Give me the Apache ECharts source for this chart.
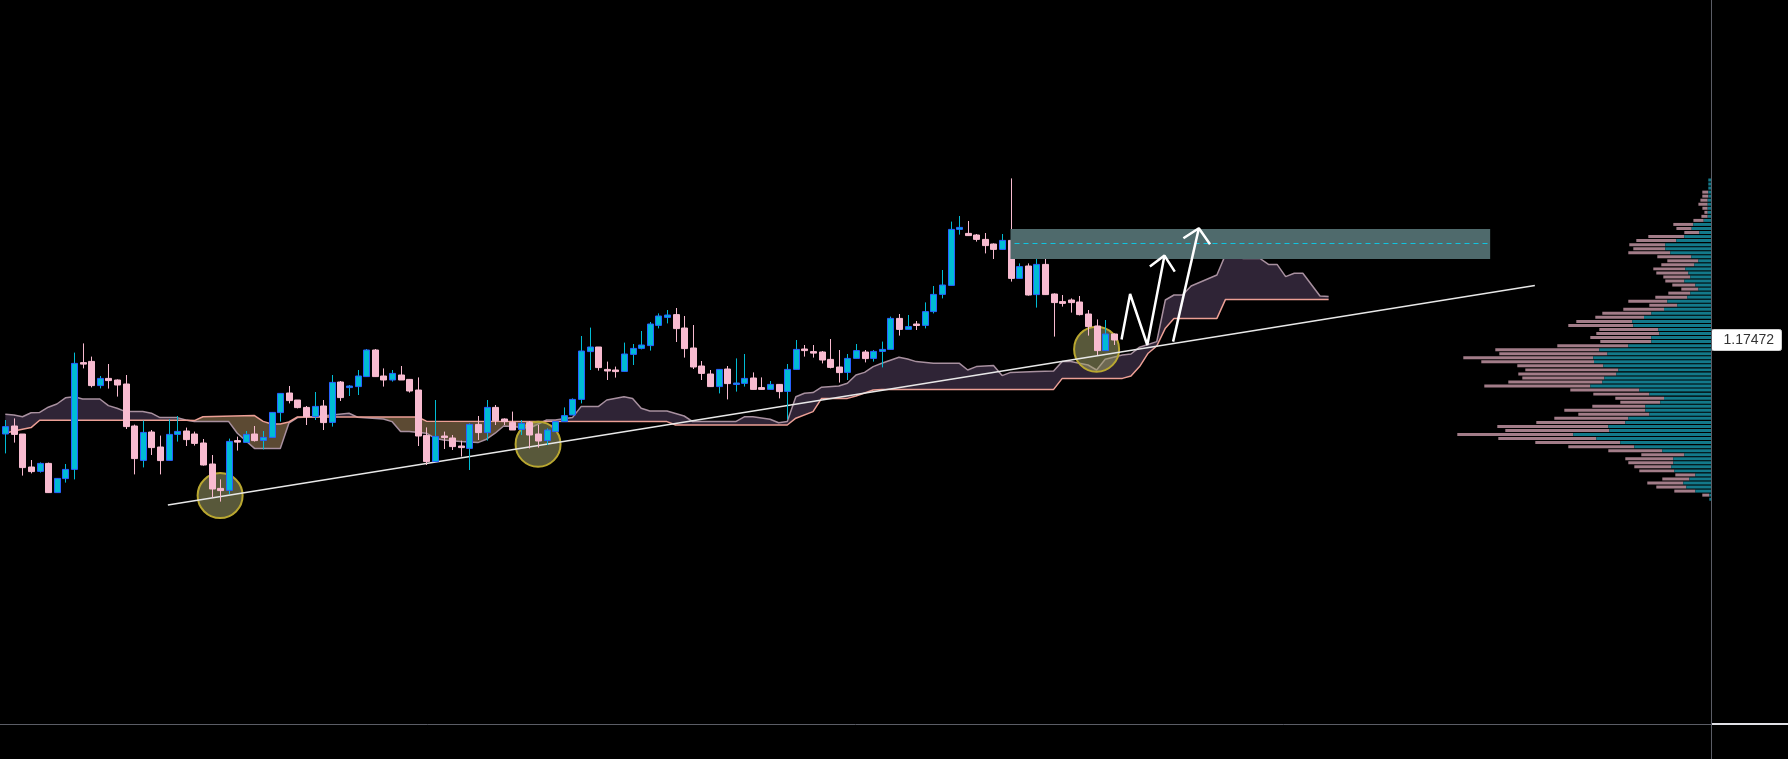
<!DOCTYPE html>
<html><head><meta charset="utf-8">
<script src="https://cdn.jsdelivr.net/npm/echarts@6/dist/echarts.min.js"></script>
<style>html,body{margin:0;padding:0;background:#000;}#c{width:1788px;height:759px;}</style>
</head><body><div id="c"></div>
<script>
// ---- candles (EURUSD) ----
const opens = [1.17002,1.17042,1.17002,1.16837,1.16815,1.16855,1.16709,1.16779,1.16825,1.17359,
1.17365,1.17244,1.17280,1.17272,1.17252,1.17042,1.16870,1.17012,1.16937,1.16870,
1.17000,1.17017,1.17002,1.16957,1.16852,1.16730,1.16720,1.16969,1.16960,1.17002,
1.16970,1.16985,1.17109,1.17207,1.17172,1.17135,1.17089,1.17142,1.17060,1.17262,
1.17234,1.17239,1.17289,1.17422,1.17292,1.17272,1.17297,1.17275,1.17222,1.16995,
1.16864,1.16992,1.16982,1.16942,1.16930,1.17050,1.17009,1.17135,1.17077,1.17060,
1.17025,1.17059,1.17002,1.16969,1.17014,1.17064,1.17097,1.17175,1.17414,1.17437,
1.17325,1.17322,1.17315,1.17400,1.17430,1.17444,1.17545,1.17585,1.17599,1.17532,
1.17432,1.17342,1.17302,1.17239,1.17327,1.17252,1.17255,1.17282,1.17234,1.17225,
1.17250,1.17215,1.17325,1.17427,1.17414,1.17412,1.17375,1.17337,1.17310,1.17380,
1.17412,1.17380,1.17415,1.17425,1.17580,1.17525,1.17552,1.17545,1.17614,1.17700,
1.17745,1.18025,1.18005,1.17997,1.17975,1.17952,1.17925,1.17970,1.17780,1.17842,
1.17699,1.17850,1.17702,1.17664,1.17672,1.17662,1.17602,1.17542,1.17419,1.17502];
const closes = [1.17039,1.17000,1.16834,1.16814,1.16855,1.16709,1.16780,1.16825,1.17355,1.17354,
1.17244,1.17280,1.17269,1.17247,1.17039,1.16879,1.17010,1.16934,1.16869,1.17000,
1.17015,1.16974,1.16955,1.16847,1.16727,1.16719,1.16965,1.16964,1.17000,1.16969,
1.16985,1.17110,1.17205,1.17169,1.17134,1.17089,1.17140,1.17059,1.17260,1.17184,
1.17242,1.17292,1.17422,1.17289,1.17272,1.17305,1.17272,1.17217,1.16992,1.16864,
1.16990,1.16984,1.16939,1.16934,1.17050,1.17009,1.17135,1.17069,1.17064,1.17022,
1.17055,1.16997,1.16967,1.17022,1.17064,1.17094,1.17175,1.17417,1.17437,1.17334,
1.17317,1.17314,1.17402,1.17430,1.17447,1.17552,1.17592,1.17597,1.17529,1.17429,
1.17337,1.17305,1.17239,1.17325,1.17254,1.17257,1.17280,1.17225,1.17225,1.17250,
1.17214,1.17325,1.17425,1.17419,1.17409,1.17372,1.17335,1.17309,1.17380,1.17419,
1.17379,1.17415,1.17425,1.17580,1.17525,1.17539,1.17545,1.17614,1.17700,1.17747,
1.18025,1.18035,1.17994,1.17975,1.17944,1.17925,1.17970,1.17780,1.17839,1.17697,
1.17850,1.17699,1.17659,1.17655,1.17659,1.17599,1.17539,1.17419,1.17502,1.17472];
const lows = [1.16905,1.16959,1.16794,1.16805,1.16809,1.16709,1.16709,1.16759,1.16775,1.17330,
1.17235,1.17230,1.17229,1.17189,1.17027,1.16800,1.16835,1.16897,1.16800,1.16870,
1.16964,1.16942,1.16944,1.16844,1.16684,1.16664,1.16702,1.16919,1.16960,1.16964,
1.16925,1.16985,1.17064,1.17155,1.17130,1.17047,1.17072,1.17022,1.17039,1.17167,
1.17192,1.17197,1.17289,1.17289,1.17239,1.17264,1.17272,1.17209,1.16942,1.16847,
1.16864,1.16927,1.16922,1.16889,1.16822,1.16972,1.16969,1.17047,1.17047,1.17022,
1.16997,1.16930,1.16934,1.16947,1.17014,1.17064,1.17097,1.17155,1.17322,1.17319,
1.17272,1.17284,1.17315,1.17347,1.17425,1.17419,1.17530,1.17555,1.17462,1.17384,
1.17327,1.17272,1.17239,1.17205,1.17175,1.17214,1.17239,1.17225,1.17225,1.17225,
1.17180,1.17075,1.17325,1.17389,1.17384,1.17355,1.17330,1.17259,1.17272,1.17380,
1.17360,1.17364,1.17335,1.17425,1.17494,1.17525,1.17522,1.17530,1.17605,1.17680,
1.17745,1.17999,1.17994,1.17964,1.17905,1.17877,1.17925,1.17764,1.17780,1.17694,
1.17634,1.17699,1.17489,1.17639,1.17609,1.17595,1.17494,1.17397,1.17419,1.17447];
const highs = [1.17072,1.17080,1.17002,1.16872,1.16860,1.16859,1.16780,1.16852,1.17409,1.17455,
1.17389,1.17292,1.17352,1.17275,1.17297,1.17049,1.17069,1.17022,1.16994,1.17075,
1.17092,1.17034,1.17014,1.16977,1.16897,1.16775,1.16979,1.16989,1.17017,1.17042,
1.17017,1.17110,1.17205,1.17242,1.17172,1.17142,1.17212,1.17172,1.17297,1.17267,
1.17247,1.17322,1.17427,1.17427,1.17330,1.17322,1.17342,1.17275,1.17285,1.17035,
1.17172,1.17014,1.16997,1.16969,1.17055,1.17092,1.17172,1.17147,1.17080,1.17114,
1.17072,1.17067,1.17047,1.17030,1.17064,1.17135,1.17180,1.17492,1.17534,1.17437,
1.17364,1.17339,1.17459,1.17452,1.17517,1.17562,1.17605,1.17622,1.17632,1.17592,
1.17547,1.17367,1.17322,1.17325,1.17342,1.17380,1.17402,1.17310,1.17285,1.17267,
1.17250,1.17352,1.17472,1.17447,1.17447,1.17417,1.17477,1.17422,1.17402,1.17452,
1.17422,1.17422,1.17464,1.17589,1.17602,1.17597,1.17567,1.17660,1.17742,1.17822,
1.18064,1.18092,1.18067,1.18002,1.18007,1.17955,1.18002,1.18280,1.17855,1.17855,
1.17902,1.17950,1.17705,1.17697,1.17680,1.17692,1.17622,1.17575,1.17572,1.17505];

// bar slots across the plot (history + projected cloud + empty space)
const SLOTS = 199;
const categories = Array.from({length: SLOTS}, (_, i) => 'B' + i);

// ---- Ichimoku cloud (vertices: [bar index, price]) ----
const senkouA = [[0,1.17101],[1,1.17097],[2,1.17088],[3,1.17108],[4,1.17110],[5,1.17136],[6,1.17152],[7,1.17183],[8,1.17188],[9,1.17177],[11,1.17177],[12,1.17144],[13,1.17131],[14,1.17114],[16,1.17114],[17,1.17106],[18,1.17084],[20,1.17084],[21,1.17072],[22,1.17064],[26,1.17064],[27,1.17006],[29,1.16930],[32,1.16930],[33,1.17056],[34,1.17084],[36,1.17088],[38,1.17097],[40,1.17106],[41,1.17086],[44,1.17077],[45,1.17064],[46,1.17014],[47,1.17014],[49,1.17006],[50,1.16981],[51,1.16972],[53,1.16964],[55,1.16959],[56,1.16976],[57,1.17006],[58,1.17042],[59,1.17039],[61,1.17031],[63,1.17072],[64,1.17072],[66,1.17084],[67,1.17139],[69,1.17139],[70,1.17172],[72,1.17188],[73,1.17180],[74,1.17131],[75,1.17117],[77,1.17117],[79,1.17092],[80,1.17064],[85,1.17064],[86,1.17088],[87,1.17088],[89,1.17076],[90,1.17058],[91,1.17064],[92,1.17188],[93,1.17206],[94,1.17209],[95,1.17236],[97,1.17242],[98,1.17256],[99,1.17297],[100,1.17310],[101,1.17339],[102,1.17356],[104,1.17386],[105,1.17377],[106,1.17364],[108,1.17356],[111,1.17356],[112,1.17322],[113,1.17339],[115,1.17344],[116,1.17294],[117,1.17310],[120,1.17314],[122,1.17317],[123,1.17364],[124,1.17364],[126,1.17347],[127,1.17322],[128,1.17376],[130,1.17397],[131,1.17402],[132,1.17436],[134,1.17464],[135,1.17672],[136,1.17697],[137,1.17697],[138,1.17742],[141,1.17797],[142,1.17899],[143,1.17899],[144,1.17880],[146,1.17880],[147,1.17850],[148,1.17850],[149,1.17789],[150,1.17806],[151,1.17806],[153,1.17692],[154,1.17689]];
const senkouB = [[0,1.17006],[1,1.17017],[3,1.17034],[4,1.17071],[21,1.17071],[22,1.17069],[23,1.17088],[29,1.17094],[30,1.17065],[31,1.17052],[32,1.17052],[33,1.17062],[34,1.17087],[48,1.17087],[49,1.17066],[77,1.17064],[78,1.17047],[91,1.17047],[92,1.17081],[94,1.17114],[95,1.17180],[98,1.17180],[99,1.17192],[101,1.17222],[102,1.17225],[122,1.17225],[123,1.17280],[130,1.17280],[131,1.17292],[132,1.17339],[133,1.17406],[134,1.17442],[135,1.17531],[136,1.17580],[141,1.17580],[142,1.17675],[154,1.17675]];

// ---- drawings ----
const trendLine = [[18.92,1.16647],[178.0,1.17745]];
const touchCircles = [[25.0,1.16694],[62.0,1.16951],[127.0,1.17426]];
const zoneX = [116.98, 172.8];
const zonePrice = [1.17877, 1.18027];
const zoneMid = 1.17957;
const zigzag = [[129.9,1.17475],[130.9,1.17702],[132.9,1.17447],[134.9,1.17894]];
const zigzagHead = [[133.2,1.17839],[134.9,1.17894],[136.1,1.17814]];
const arrow2 = [[135.9,1.17464],[138.9,1.18031]];
const arrow2Head = [[137.1,1.17981],[138.9,1.18031],[140.2,1.17951]];
const lastPrice = 1.17472;

// ---- visible range volume profile (rows top -> bottom) ----
const profileHigh = 1.18272, profileRow = 0.000202;
const profileUp = [27,27,27,27,27,33,33,33,33,33,73,177,193,117,267,347,457,457,407,197,127,167,257,227,207,267,157,127,207,237,437,337,470,597,670,787,777,527,517,597,597,827,1117,1037,1177,1170,1077,927,947,1067,1087,1207,717,617,470,507,657,657,617,827,857,1027,1017,1377,1147,907,767,487,267,377,377,397,367,157,217,277,247,157,17,17];
const profileDown = [0,0,0,60,60,73,93,53,33,63,103,200,153,150,360,400,360,320,420,340,310,330,320,320,270,190,230,170,220,320,390,280,407,490,487,560,650,590,630,610,510,710,1040,1080,1300,1127,860,930,980,820,940,1060,690,560,487,400,530,810,710,740,890,1110,1040,1160,980,850,660,540,430,480,450,370,350,200,270,360,300,210,70,0];
const profileMax = 17100;

const yMin = 1.15552, yMax = 1.19172;

function interp(V, x) {
  if (x <= V[0][0]) return V[0][1];
  for (let k = 1; k < V.length; k++) {
    if (x <= V[k][0]) {
      const x0 = V[k-1][0], y0 = V[k-1][1], x1 = V[k][0], y1 = V[k][1];
      return y0 + (y1 - y0) * (x - x0) / (x1 - x0);
    }
  }
  return V[V.length-1][1];
}

const chart = echarts.init(document.getElementById('c'), null, {renderer: 'canvas'});
const UP = '#00bcd4', UPB = '#2962ff', DN = '#f8bbd0';

const option = {
  backgroundColor: '#000000',
  animation: false,
  grid: {left: 1, right: 77, top: 0, bottom: 35},
  xAxis: [
    {type: 'category', data: categories, boundaryGap: true, show: false},
    {type: 'value', min: -0.5, max: SLOTS - 0.5, show: false},
    {type: 'value', min: 0, max: profileMax, inverse: true, show: false}
  ],
  yAxis: {type: 'value', min: yMin, max: yMax, show: false},
  series: [
    { // cloud fill
      type: 'custom', xAxisIndex: 1, z: 1, silent: true,
      data: [[0, yMin]],
      renderItem: function (params, api) {
        const xs = Array.from(new Set(senkouA.map(p => p[0]).concat(senkouB.map(p => p[0])))).sort((a, b) => a - b);
        const lo = Math.max(senkouA[0][0], senkouB[0][0]);
        const hi = Math.min(senkouA[senkouA.length-1][0], senkouB[senkouB.length-1][0]);
        const pts = [];
        xs.filter(x => x >= lo && x <= hi).forEach(x => {
          const a = interp(senkouA, x), b = interp(senkouB, x);
          if (pts.length) {
            const p = pts[pts.length-1];
            const d0 = p.a - p.b, d1 = a - b;
            if (d0 * d1 < 0) {
              const t = d0 / (d0 - d1);
              const v = p.a + t * (a - p.a);
              pts.push({x: p.x + t * (x - p.x), a: v, b: v});
            }
          }
          pts.push({x, a, b});
        });
        const runs = [];
        let run = [pts[0]], sign = 0;
        for (let k = 1; k < pts.length; k++) {
          const s = Math.sign((pts[k-1].a - pts[k-1].b) + (pts[k].a - pts[k].b));
          if (sign === 0) sign = s;
          else if (s !== 0 && s !== sign) { runs.push({sign, pts: run}); run = [pts[k-1]]; sign = s; }
          run.push(pts[k]);
        }
        runs.push({sign, pts: run});
        const children = runs.map(r => {
          const top = r.pts.map(p => api.coord([p.x, p.a]));
          const bot = r.pts.slice().reverse().map(p => api.coord([p.x, p.b]));
          return {type: 'polygon', shape: {points: top.concat(bot)},
            style: {fill: r.sign > 0 ? '#2f2436' : '#5c4a33'}};
        });
        return {type: 'group', children};
      }
    },
    {type: 'line', xAxisIndex: 1, data: senkouA, showSymbol: false, silent: true, z: 2,
      lineStyle: {color: '#a8909f', width: 1.5}},
    {type: 'line', xAxisIndex: 1, data: senkouB, showSymbol: false, silent: true, z: 2,
      lineStyle: {color: '#ec9f95', width: 1.5}},
    { // volume profile
      type: 'custom', xAxisIndex: 2, z: 1, silent: true,
      data: profileUp.map((u, i) => [u, profileHigh - i * profileRow, profileDown[i]]),
      renderItem: function (params, api) {
        const up = api.value(0), price = api.value(1), dn = api.value(2);
        const p0 = api.coord([0, price]);
        const p1 = api.coord([up, price]);
        const p2 = api.coord([up + dn, price]);
        const h = Math.max(2, api.size([0, profileRow])[1] * 0.74);
        const ch = [];
        if (dn > 0) ch.push({type: 'rect', shape: {x: p2[0], y: p0[1] - h / 2, width: p1[0] - p2[0], height: h}, style: {fill: '#a27c88'}});
        ch.push({type: 'rect', shape: {x: p1[0], y: p0[1] - h / 2, width: p0[0] - p1[0], height: h}, style: {fill: '#13798a'}});
        return {type: 'group', children: ch};
      }
    },
    { // touch circles
      type: 'custom', xAxisIndex: 1, z: 3, silent: true,
      data: touchCircles,
      renderItem: function (params, api) {
        const c = api.coord([api.value(0), api.value(1)]);
        return {type: 'circle', shape: {cx: c[0], cy: c[1], r: 22.5},
          style: {fill: 'rgba(160,160,105,0.55)', stroke: '#b9a730', lineWidth: 2}};
      }
    },
    {type: 'line', xAxisIndex: 1, data: trendLine, showSymbol: false, silent: true, z: 4, clip: false,
      lineStyle: {color: '#e8e8e8', width: 1.5}},
    { // last price label on the price scale
      type: 'custom', xAxisIndex: 1, z: 20, silent: true, clip: false,
      data: [[SLOTS - 0.5, lastPrice]],
      renderItem: function (params, api) {
        const p = api.coord([api.value(0), api.value(1)]);
        const x = Math.round(p[0]) + 0.5, y = Math.round(p[1]);
        return {type: 'group', children: [
          {type: 'rect', shape: {x: x, y: y - 10.5, width: 70, height: 21, r: 2},
            style: {fill: '#ffffff', stroke: '#cfcfcf', lineWidth: 1}},
          {type: 'text', style: {text: lastPrice.toFixed(5), x: x + 12, y: y + 0.5,
            verticalAlign: 'middle', align: 'left', fill: '#333333',
            font: '14px "Liberation Sans", Arial, sans-serif'}}
        ]};
      }
    },
    { // candles
      type: 'custom', xAxisIndex: 0, z: 5, silent: true,
      data: opens.map((o, i) => [i, o, closes[i], lows[i], highs[i]]),
      renderItem: function (params, api) {
        const i = api.value(0), o = api.value(1), c = api.value(2), l = api.value(3), h = api.value(4);
        const po = api.coord([i, o]), pc = api.coord([i, c]), pl = api.coord([i, l]), ph = api.coord([i, h]);
        const x = Math.round(po[0]) + 0.5;
        const up = c >= o;
        const top = Math.min(po[1], pc[1]);
        const bh = Math.max(Math.abs(po[1] - pc[1]), 1.5);
        const w = 6;
        return {type: 'group', children: [
          {type: 'line', shape: {x1: x, y1: ph[1], x2: x, y2: pl[1]},
            style: {stroke: up ? UP : DN, lineWidth: 1}},
          {type: 'rect', shape: {x: x - w / 2, y: top, width: w, height: bh},
            style: {fill: up ? UP : DN, stroke: up ? UPB : DN, lineWidth: 1}}
        ]};
      }
    },
    { // target zone
      type: 'custom', xAxisIndex: 1, z: 6, silent: true,
      data: [[zoneX[0], zonePrice[0]]],
      renderItem: function (params, api) {
        const a = api.coord([zoneX[0], zonePrice[1]]);
        const b = api.coord([zoneX[1], zonePrice[0]]);
        const m1 = api.coord([zoneX[0], zoneMid]);
        const m2 = api.coord([zoneX[1], zoneMid]);
        return {type: 'group', children: [
          {type: 'rect', shape: {x: a[0], y: a[1], width: b[0] - a[0], height: b[1] - a[1]},
            style: {fill: '#4f6a6c'}},
          {type: 'line', shape: {x1: m1[0] + 4, y1: Math.round(m1[1]) + 0.5, x2: m2[0], y2: Math.round(m2[1]) + 0.5},
            style: {stroke: '#10c4e0', lineWidth: 1.2, lineDash: [5, 4]}}
        ]};
      }
    },
    {type: 'line', xAxisIndex: 1, data: zigzag, showSymbol: false, silent: true, z: 7,
      lineStyle: {color: '#ffffff', width: 2.5}},
    {type: 'line', xAxisIndex: 1, data: zigzagHead, showSymbol: false, silent: true, z: 7,
      lineStyle: {color: '#ffffff', width: 2.5}},
    {type: 'line', xAxisIndex: 1, data: arrow2, showSymbol: false, silent: true, z: 7,
      lineStyle: {color: '#ffffff', width: 2.5}},
    {type: 'line', xAxisIndex: 1, data: arrow2Head, showSymbol: false, silent: true, z: 7,
      lineStyle: {color: '#ffffff', width: 2.5}}
  ],
  graphic: [
    {type: 'line', z: 100, shape: {x1: 1711.5, y1: 0, x2: 1711.5, y2: 759}, style: {stroke: '#5b5d66', lineWidth: 1}},
    {type: 'line', z: 100, shape: {x1: 0, y1: 724.5, x2: 1711, y2: 724.5}, style: {stroke: '#5b5d66', lineWidth: 1}},
    {type: 'line', z: 100, shape: {x1: 1712, y1: 724, x2: 1788, y2: 724}, style: {stroke: '#e0e0e6', lineWidth: 2}}
  ]
};
chart.setOption(option);
</script>
</body></html>
